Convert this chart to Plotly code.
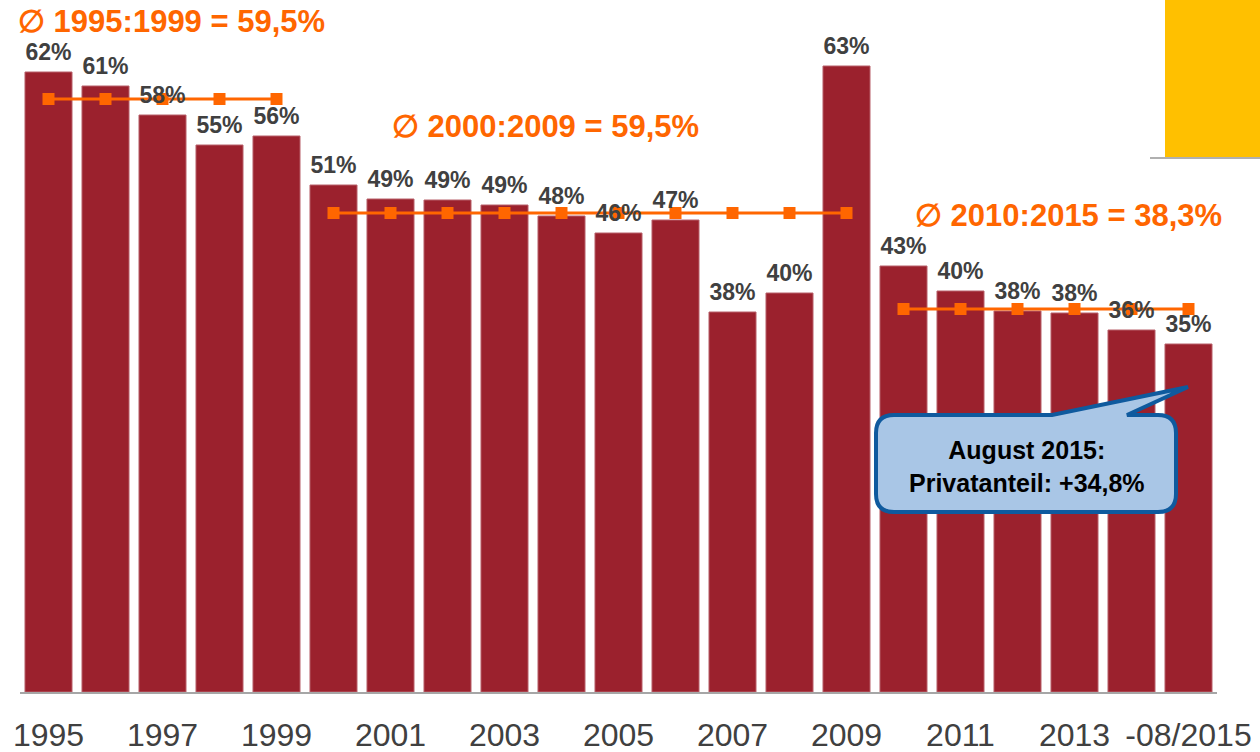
import plotly.graph_objects as go

years = list(range(1995, 2016))
values = [62.0, 60.6, 57.7, 54.7, 55.6, 50.7, 49.3, 49.2, 48.7, 47.6, 45.9, 47.2,
          38.0, 39.9, 62.6, 42.6, 40.1, 38.1, 37.9, 36.2, 34.8]
tick_years = [1995, 1997, 1999, 2001, 2003, 2005, 2007, 2009, 2011, 2013, 2015]
tick_text = ["1995", "1997", "1999", "2001", "2003", "2005", "2007", "2009", "2011", "2013", "-08/2015"]

avg1_years = list(range(1995, 2000)); avg1 = 59.3
avg2_years = list(range(2000, 2010)); avg2 = 47.9
avg3_years = list(range(2010, 2016)); avg3 = 38.3
avg_labels = ["∅ 1995:1999 = 59,5%", "∅ 2000:2009 = 59,5%", "∅ 2010:2015 = 38,3%"]
callout_text = "August 2015:<br>Privatanteil: +34,8%"

W, H = 1260, 752
L, R, T, B = 20, 43, 0, 60
PW, PH = W - L - R, H - T - B

def px(x):
    return (x - L) / PW

def py(y):
    return (T + PH - y) / PH

BAR = "#9B212D"
ORANGE = "#FF6600"
TXT = "#404040"
FONT = "Liberation Sans, Arial, sans-serif"

fig = go.Figure()
fig.add_trace(go.Bar(x=years, y=values, marker=dict(color=BAR, line=dict(color="#B8606A", width=1)),
                     hoverinfo="skip"))
for yrs, v in [(avg1_years, avg1), (avg2_years, avg2), (avg3_years, avg3)]:
    fig.add_trace(go.Scatter(x=yrs, y=[v] * len(yrs), mode="lines+markers",
                             line=dict(color=ORANGE, width=3),
                             marker=dict(symbol="square", size=12, color=ORANGE)))
fig.add_trace(go.Scatter(x=years, y=values, mode="markers+text",
                         marker=dict(size=8, opacity=0),
                         text=[f"{v:.0f}%" for v in values], textposition="top center",
                         textfont=dict(family=FONT, size=23, color=TXT, weight="bold"),
                         cliponaxis=False, hoverinfo="skip"))

# callout shape
x0, x1, y0, y1, r = 876, 1176, 415, 512, 18
bx0, bx1, tipx, tipy = 1052, 1127, 1188, 387
pts = (f"M {px(x0+r)},{py(y0)} L {px(bx0)},{py(y0)} L {px(tipx)},{py(tipy)} L {px(bx1)},{py(y0)} "
       f"L {px(x1-r)},{py(y0)} Q {px(x1)},{py(y0)} {px(x1)},{py(y0+r)} "
       f"L {px(x1)},{py(y1-r)} Q {px(x1)},{py(y1)} {px(x1-r)},{py(y1)} "
       f"L {px(x0+r)},{py(y1)} Q {px(x0)},{py(y1)} {px(x0)},{py(y1-r)} "
       f"L {px(x0)},{py(y0+r)} Q {px(x0)},{py(y0)} {px(x0+r)},{py(y0)} Z")
shapes = [
    dict(type="path", xref="paper", yref="paper", path=pts, fillcolor="#A9C6E6",
         line=dict(color="#0F5A9E", width=4), layer="above"),
    dict(type="rect", xref="paper", yref="paper", x0=px(1165), x1=px(1262), y0=py(158), y1=py(-2),
         fillcolor="#FFC000", line=dict(width=0), layer="above"),
    dict(type="line", xref="paper", yref="paper", x0=px(1150), x1=px(1262), y0=py(158), y1=py(158),
         line=dict(color="#B0B0B0", width=2), layer="above"),
]

annotations = []
for text, cx, cy in [(avg_labels[0], 171, 22), (avg_labels[1], 545, 127), (avg_labels[2], 1068, 216)]:
    annotations.append(dict(text=f"<b>{text}</b>", xref="paper", yref="paper", x=px(cx), y=py(cy),
                            xanchor="center", yanchor="middle", showarrow=False,
                            font=dict(family=FONT, size=31, color=ORANGE)))
annotations.append(dict(text=f"<b>{callout_text}</b>", xref="paper", yref="paper", x=px(1027), y=py(466),
                        xanchor="center", yanchor="middle", showarrow=False,
                        font=dict(family=FONT, size=25, color="#000000")))

fig.update_layout(
    width=W, height=H, margin=dict(l=L, r=R, t=T, b=B, autoexpand=False),
    paper_bgcolor="white", plot_bgcolor="white", showlegend=False,
    bargap=0.175, shapes=shapes, annotations=annotations,
    xaxis=dict(range=[1994.5, 2015.5], tickvals=tick_years, ticktext=tick_text, automargin=False,
               showgrid=False, zeroline=False, showline=True, linecolor="#A6A6A6", linewidth=2,
               ticks="", tickfont=dict(family=FONT, size=32, color=TXT), ticklabelstandoff=14),
    yaxis=dict(range=[0, 69.2], showgrid=False, zeroline=False, showticklabels=False,
               showline=False, automargin=False),
)
fig.write_html("out.html", config={"displayModeBar": False},
               post_script="document.body.style.margin='0';document.body.style.overflow='hidden';")
